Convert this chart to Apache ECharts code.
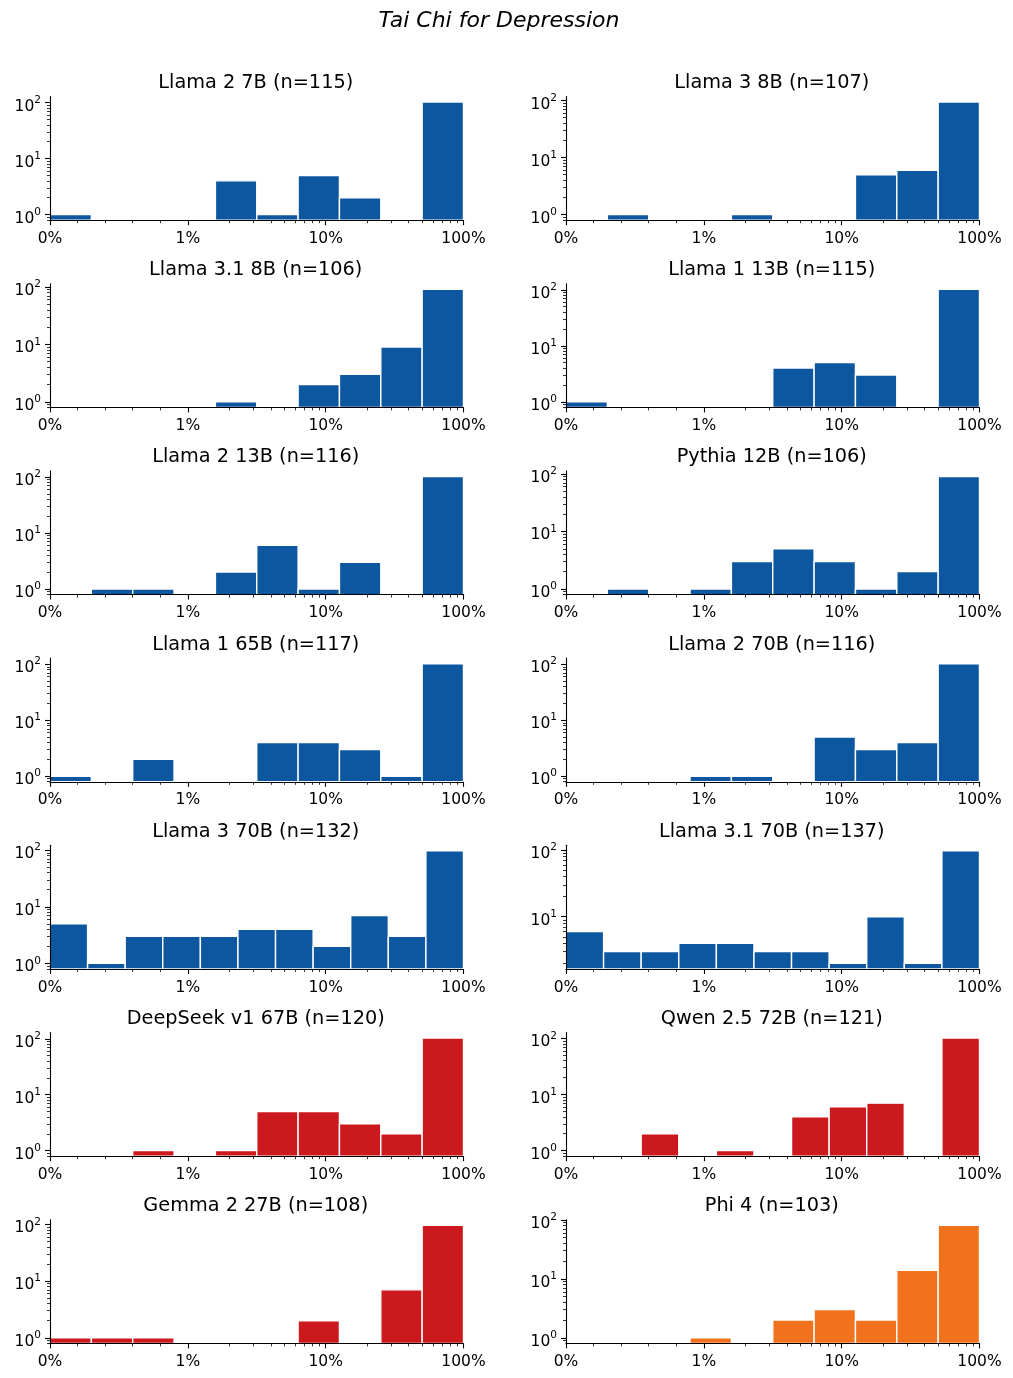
<!DOCTYPE html>
<html>
<head>
<meta charset="utf-8">
<script src="https://cdn.jsdelivr.net/npm/echarts@6/dist/echarts.min.js"></script>
<style>
  html, body { margin: 0; padding: 0; background: #fff; }
  #chart { width: 1013px; height: 1378px; }
</style>
</head>
<body>
<div id="chart"></div>
<script>
// tick labels
const xTickLabels = ["0%", "1%", "10%", "100%"];
const yTickExponents = [0, 1, 2];

// panel titles, in reading order
const titles = [
  "Llama 2 7B (n=115)", "Llama 3 8B (n=107)",
  "Llama 3.1 8B (n=106)", "Llama 1 13B (n=115)",
  "Llama 2 13B (n=116)", "Pythia 12B (n=106)",
  "Llama 1 65B (n=117)", "Llama 2 70B (n=116)",
  "Llama 3 70B (n=132)", "Llama 3.1 70B (n=137)",
  "DeepSeek v1 67B (n=120)", "Qwen 2.5 72B (n=121)",
  "Gemma 2 27B (n=108)", "Phi 4 (n=103)"
];

// histogram counts per bin (bins equal width on the symlog axis)
const llama2_7b   = [1, 0, 0, 0, 4, 1, 5, 2, 0, 102];
const llama3_8b   = [0, 1, 0, 0, 1, 0, 0, 5, 6, 94];
const llama31_8b  = [0, 0, 0, 0, 1, 0, 2, 3, 9, 91];
const llama1_13b  = [1, 0, 0, 0, 0, 4, 5, 3, 0, 102];
const llama2_13b  = [0, 1, 1, 0, 2, 6, 1, 3, 0, 102];
const pythia_12b  = [0, 1, 0, 1, 3, 5, 3, 1, 2, 90];
const llama1_65b  = [1, 0, 2, 0, 0, 4, 4, 3, 1, 102];
const llama2_70b  = [0, 0, 0, 1, 1, 0, 5, 3, 4, 102];
const llama3_70b  = [5, 1, 3, 3, 3, 4, 4, 2, 7, 3, 97];
const llama31_70b = [6, 3, 3, 4, 4, 3, 3, 2, 10, 2, 97];
const deepseek_67b = [0, 0, 1, 0, 1, 5, 5, 3, 2, 103];
const qwen25_72b  = [0, 0, 2, 0, 1, 0, 4, 6, 7, 0, 101];
const gemma2_27b  = [1, 1, 1, 0, 0, 0, 2, 0, 7, 96];
const phi4        = [0, 0, 0, 1, 0, 2, 3, 2, 14, 81];

const panels = [
  llama2_7b, llama3_8b, llama31_8b, llama1_13b, llama2_13b, pythia_12b,
  llama1_65b, llama2_70b, llama3_70b, llama31_70b, deepseek_67b, qwen25_72b,
  gemma2_27b, phi4
];

const BLUE = "#0d57a1", RED = "#cb191e", ORANGE = "#f1711d";
const barColors = [BLUE, BLUE, BLUE, BLUE, BLUE, BLUE, BLUE, BLUE, BLUE, BLUE, RED, RED, RED, ORANGE];

const FONT = "DejaVu Sans";
const colLeft = [50, 566];
const plotW = 413.5;
const rowTop0 = 96.5, rowStep = 187.2, plotH = 123.7;

// symlog x: 0..1% linear, then one unit per decade
const xMajor = [0, 1, 2, 3];
const xMinor = [0.2, 0.4, 0.6, 0.8];
for (let d = 1; d <= 2; d++) for (let k = 2; k <= 9; k++) xMinor.push(d + Math.log10(k));
const yMinor = [];
for (let d = -1; d <= 2; d++) for (let k = 2; k <= 9; k++) yMinor.push(d + Math.log10(k));

const line = { color: "#000", width: 1.1 };
const grid = [], xAxis = [], yAxis = [], series = [], title = [];

title.push({
  text: "Tai Chi for Depression", left: 499, top: 10, textAlign: "center", padding: 0,
  textStyle: { fontFamily: FONT, fontSize: 22, fontStyle: "italic", fontWeight: "normal", color: "#000" }
});

panels.forEach((counts, g) => {
  const col = g % 2, row = Math.floor(g / 2);
  const top = rowTop0 + row * rowStep;
  const nb = counts.length;
  const pos = counts.filter(c => c > 0);
  const a = Math.log10(Math.min(...pos)), b = Math.log10(Math.max(...pos));
  const lo = a - 0.05 * (b - a), hi = b + 0.05 * (b - a);
  const color = barColors[g];

  grid.push({ left: colLeft[col], top: top, width: plotW, height: plotH, outerBoundsMode: "none" });

  title.push({
    text: titles[g], left: colLeft[col] + plotW / 2 - 1, top: top - 23, textAlign: "center", padding: 0,
    textStyle: { fontFamily: FONT, fontSize: 19.3, fontWeight: "normal", color: "#000" }
  });

  xAxis.push({
    gridIndex: g, type: "value", min: 0, max: 3, position: "bottom", z: 5,
    axisLine: { show: true, onZero: false, lineStyle: line },
    axisTick: { show: true, length: 5, lineStyle: line, customValues: xMajor },
    axisLabel: {
      customValues: xMajor, formatter: v => xTickLabels[Math.round(v)],
      color: "#000", fontFamily: FONT, fontSize: 15.5, margin: 10.5
    },
    splitLine: { show: false }
  });
  xAxis.push({
    gridIndex: g, type: "value", min: 0, max: 3, position: "bottom", z: 5,
    axisLine: { show: false, onZero: false },
    axisTick: { show: true, length: 3, lineStyle: { color: "#000", width: 0.8 }, customValues: xMinor },
    axisLabel: { show: false },
    splitLine: { show: false }
  });

  yAxis.push({
    gridIndex: g, type: "value", min: lo, max: hi, position: "left", z: 5,
    axisLine: { show: true, onZero: false, lineStyle: line },
    axisTick: { show: true, length: 5, lineStyle: line, customValues: yTickExponents },
    axisLabel: {
      customValues: yTickExponents,
      formatter: v => "{b|10}{s|" + Math.round(v) + "}",
      margin: 9, padding: [4, 0, 0, 0],
      rich: {
        b: { fontFamily: FONT, fontSize: 15.5, lineHeight: 20, verticalAlign: "bottom", color: "#000" },
        s: { fontFamily: FONT, fontSize: 10.5, lineHeight: 11, verticalAlign: "top", color: "#000" }
      }
    },
    splitLine: { show: false }
  });
  yAxis.push({
    gridIndex: g, type: "value", min: lo, max: hi, position: "left", z: 5,
    axisLine: { show: false, onZero: false },
    axisTick: { show: true, length: 3, lineStyle: { color: "#000", width: 0.8 }, customValues: yMinor },
    axisLabel: { show: false },
    splitLine: { show: false }
  });

  series.push({
    type: "custom",
    xAxisIndex: 2 * g,
    yAxisIndex: 2 * g,
    z: 2,
    data: counts.map((c, i) => [i, c]),
    renderItem: (params, api) => {
      const i = api.value(0), c = api.value(1);
      if (!(c > 0)) return null;
      const p0 = api.coord([i * 3 / nb, lo]);
      const p1 = api.coord([(i + 1) * 3 / nb, Math.log10(c)]);
      return {
        type: "rect",
        shape: { x: p0[0], y: p1[1], width: p1[0] - p0[0], height: p0[1] - p1[1] },
        style: { fill: color, stroke: "#fff", lineWidth: 1.4 }
      };
    }
  });
});

const chart = echarts.init(document.getElementById("chart"), null, { renderer: "canvas" });
chart.setOption({
  animation: false,
  backgroundColor: "#fff",
  title, grid, xAxis, yAxis, series
});
</script>
</body>
</html>
